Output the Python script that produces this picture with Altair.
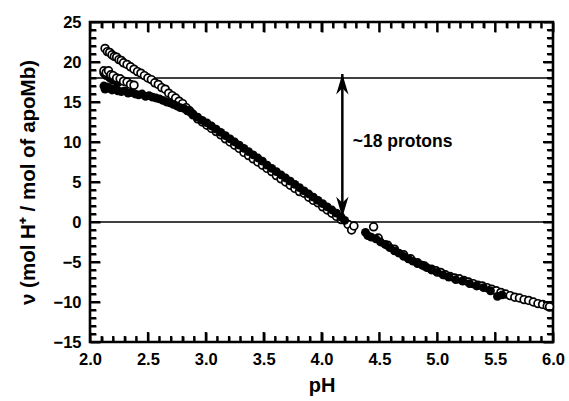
import altair as alt
import pandas as pd

# ---------------- data ----------------
# open circles: upper branch and the main curve
open_ph = [2.13, 2.15, 2.17, 2.19, 2.21, 2.23, 2.25, 2.27, 2.29, 2.32, 2.35, 2.38, 2.41, 2.44,
           2.47, 2.50, 2.53, 2.56, 2.59, 2.62, 2.65, 2.68, 2.71, 2.74, 2.77, 2.80, 2.83, 2.86,
           2.89, 2.93, 2.97, 3.01, 3.05, 3.09, 3.13, 3.17, 3.21, 3.25, 3.29, 3.33, 3.37, 3.41,
           3.45, 3.49, 3.53, 3.57, 3.61, 3.65, 3.69, 3.73, 3.77, 3.81, 3.85, 3.89, 3.93, 3.97,
           4.01, 4.05, 4.09, 4.13, 4.17, 4.23, 4.26, 4.28, 4.45, 4.49, 4.57, 4.63, 4.71, 4.77,
           4.83, 4.89, 4.95, 4.99, 5.03, 5.07, 5.11, 5.15, 5.19, 5.23, 5.27, 5.31, 5.35, 5.39,
           5.43, 5.47, 5.51, 5.55, 5.59, 5.63, 5.67, 5.71, 5.75, 5.79, 5.83, 5.87, 5.91, 5.95, 5.97]
open_v = [21.7, 21.3, 21.2, 20.9, 20.7, 20.6, 20.3, 20.2, 19.9, 19.7, 19.4, 19.1, 18.8, 18.6,
          18.3, 18.0, 17.8, 17.4, 17.2, 16.8, 16.6, 16.1, 15.8, 15.5, 15.1, 14.8, 14.3, 13.9,
          13.4, 12.9, 12.5, 12.1, 11.7, 11.3, 10.9, 10.4, 10.0, 9.6, 9.2, 8.7, 8.3, 7.9,
          7.5, 7.1, 6.7, 6.3, 5.8, 5.4, 5.0, 4.6, 4.2, 3.8, 3.6, 3.1, 2.7, 2.4,
          1.9, 1.5, 1.1, 0.7, 0.3, -0.3, -1.0, -0.5, -0.6, -2.0, -2.9, -3.4, -4.1, -4.6,
          -5.1, -5.5, -5.9, -6.1, -6.3, -6.6, -6.8, -7.0, -7.1, -7.3, -7.5, -7.7, -7.9, -8.0,
          -8.2, -8.4, -8.6, -8.8, -9.0, -9.2, -9.4, -9.5, -9.7, -9.8, -10.0, -10.2, -10.3, -10.5, -10.6]

# open circles: middle branch
mid_ph = [2.12, 2.14, 2.16, 2.18, 2.20, 2.23, 2.26, 2.29, 2.32, 2.35, 2.38]
mid_v = [18.9, 18.7, 18.9, 18.4, 18.3, 18.0, 17.9, 17.6, 17.5, 17.2, 17.1]

# filled circles: lower branch and main curve
filled_ph = [2.12, 2.13, 2.15, 2.17, 2.19, 2.21, 2.24, 2.27, 2.30, 2.33, 2.36, 2.39, 2.42, 2.45,
             2.48, 2.51, 2.54, 2.57, 2.60, 2.63, 2.66, 2.69, 2.72, 2.75, 2.78, 2.81, 2.84, 2.87,
             2.12, 2.14, 2.17, 2.20, 2.24,
             2.89, 2.93, 2.97, 3.01, 3.05, 3.09, 3.13, 3.17, 3.21, 3.25, 3.29, 3.33, 3.37, 3.41,
             3.45, 3.49, 3.53, 3.57, 3.61, 3.65, 3.69, 3.73, 3.77, 3.81, 3.85, 3.89, 3.93, 3.97,
             4.01, 4.05, 4.09, 4.13, 4.17, 4.20, 4.38, 4.40, 4.43, 4.47, 4.51, 4.55, 4.59, 4.63,
             4.67, 4.71, 4.75, 4.79, 4.83, 4.87, 4.91, 4.95, 5.00, 5.05, 5.10, 5.16, 5.22, 5.28,
             5.34, 5.40, 5.46, 5.52, 5.56]
filled_v = [17.0, 16.6, 16.9, 16.7, 16.5, 16.6, 16.4, 16.3, 16.4, 16.1, 16.2, 16.0, 15.9, 16.0,
            15.7, 15.8, 15.6, 15.5, 15.4, 15.2, 15.0, 14.9, 14.7, 14.5, 14.3, 14.2, 13.9, 13.7,
            18.6, 18.3, 18.0, 17.7, 17.4,
            13.5, 13.1, 12.7, 12.4, 12.0, 11.6, 11.2, 10.8, 10.4, 10.0, 9.6, 9.2, 8.8, 8.4,
            8.0, 7.6, 7.1, 6.7, 6.3, 5.9, 5.5, 5.1, 4.7, 4.3, 3.9, 3.5, 3.1, 2.7,
            2.3, 1.9, 1.5, 1.1, 0.6, 0.2, -1.3, -1.7, -1.9, -2.1, -2.5, -2.8, -3.2, -3.6,
            -3.9, -4.3, -4.6, -4.9, -5.2, -5.4, -5.7, -6.0, -6.3, -6.6, -6.9, -7.2, -7.4, -7.7,
            -8.0, -8.2, -8.6, -9.3, -9.1]

ref_levels = [0, 18]
arrow_ph = [4.18]
arrow_bottom = [0.6]
arrow_top = [18.5]
label_text = ["~18 protons"]
label_ph = [4.27]
label_v = [10.0]

# tick positions (major ones labelled, minor ones unlabelled)
x_ticks = [round(2.0 + 0.1 * i, 1) for i in range(41)]
y_ticks = [-15 + i for i in range(41)]

# ---------------- chart ----------------
W, H = 463, 320
FONT = "Liberation Sans"
XD = [2, 6]
YD = [-15, 25]
MAJ, MIN = 10, 6

X_MAJOR_TEST = "abs(datum.value * 2 - round(datum.value * 2)) < 0.001"
Y_MAJOR_TEST = "datum.value % 5 === 0"


def build(conditional):
    xs = alt.Scale(domain=XD, nice=False, zero=False)
    ys = alt.Scale(domain=YD, nice=False, zero=False)
    if conditional:
        x_dash = {"condition": {"test": X_MAJOR_TEST, "value": [MAJ, H - 2 * MAJ, MAJ, 0]},
                  "value": [MIN, H - 2 * MIN, MIN, 0]}
        y_dash = {"condition": {"test": Y_MAJOR_TEST, "value": [MAJ, W - 2 * MAJ, MAJ, 0]},
                  "value": [MIN, W - 2 * MIN, MIN, 0]}
    else:
        x_dash = [8, H - 16, 8, 0]
        y_dash = [8, W - 16, 8, 0]

    xaxis = alt.Axis(values=x_ticks,
                     labelExpr=X_MAJOR_TEST + " ? format(datum.value, '.1f') : ''",
                     ticks=False, domain=False, grid=True, gridColor="black", gridOpacity=1,
                     gridWidth=2, gridDash=x_dash, labelOverlap=False,
                     labelFont=FONT, labelFontWeight="bold", labelFontSize=16.5, labelPadding=9,
                     labelColor="black", titleFont=FONT, titleFontWeight="bold", titleFontSize=20,
                     titleColor="black", titlePadding=8, labelFlush=False)
    yaxis = alt.Axis(values=y_ticks,
                     labelExpr=Y_MAJOR_TEST + " ? format(datum.value, 'd') : ''",
                     ticks=False, domain=False, grid=True, gridColor="black", gridOpacity=1,
                     gridWidth=2, gridDash=y_dash, labelOverlap=False,
                     labelFont=FONT, labelFontWeight="bold", labelFontSize=16.5, labelPadding=9,
                     labelColor="black", titleFont=FONT, titleFontWeight="bold", titleFontSize=20.5,
                     titleColor="black", titlePadding=15, labelFlush=False)
    XT = "pH"
    YT = "ν (mol H⁺ / mol of apoMb)"

    def X(f):
        return alt.X(f, type="quantitative", scale=xs, axis=xaxis, title=XT)

    def Y(f):
        return alt.Y(f, type="quantitative", scale=ys, axis=yaxis, title=YT)

    open_df = pd.DataFrame({"ph": open_ph, "v": open_v})
    mid_df = pd.DataFrame({"ph": mid_ph, "v": mid_v})
    filled_df = pd.DataFrame({"ph": filled_ph, "v": filled_v})
    ref_df = pd.DataFrame({"v": ref_levels})
    arrow_df = pd.DataFrame({"ph": arrow_ph, "lo": arrow_bottom, "hi": arrow_top})
    label_df = pd.DataFrame({"ph": label_ph, "v": label_v, "txt": label_text})

    # inward tick marks as short rules, lengths in pixels converted to data units
    ux = (XD[1] - XD[0]) / W
    uy = (YD[1] - YD[0]) / H
    xt_rows, yt_rows = [], []
    for t in x_ticks:
        ln = MAJ if abs(t * 2 - round(t * 2)) < 0.001 else MIN
        xt_rows.append({"pos": t, "s0": YD[0], "s1": YD[0] + ln * uy})
        xt_rows.append({"pos": t, "s0": YD[1] - ln * uy, "s1": YD[1]})
    for t in y_ticks:
        ln = MAJ if t % 5 == 0 else MIN
        yt_rows.append({"qpos": t, "r0": XD[0], "r1": XD[0] + ln * ux})
        yt_rows.append({"qpos": t, "r0": XD[1] - ln * ux, "r1": XD[1]})

    xticks = alt.Chart(pd.DataFrame(xt_rows)).mark_rule(color="black", strokeWidth=2).encode(
        x=X("pos"), y=Y("s0"), y2="s1")
    yticks = alt.Chart(pd.DataFrame(yt_rows)).mark_rule(color="black", strokeWidth=2).encode(
        y=Y("qpos"), x=X("r0"), x2="r1")

    refs = alt.Chart(ref_df).mark_rule(color="black", strokeWidth=1.3).encode(y=Y("v"))

    open_pts = alt.Chart(open_df).mark_point(shape="circle", filled=False, fill="white",
                                             fillOpacity=1, stroke="black", strokeWidth=1.7,
                                             size=60, opacity=1).encode(x=X("ph"), y=Y("v"))
    filled_pts = alt.Chart(filled_df).mark_point(shape="circle", filled=True, color="black",
                                                 size=78, opacity=1).encode(x=X("ph"), y=Y("v"))
    mid_pts = alt.Chart(mid_df).mark_point(shape="circle", filled=False, fill="white",
                                           fillOpacity=1, stroke="black", strokeWidth=1.7,
                                           size=60, opacity=1).encode(x=X("ph"), y=Y("v"))

    shaft = alt.Chart(arrow_df).mark_rule(color="black", strokeWidth=2.5).encode(
        x=X("ph"), y=Y("lo"), y2="hi")
    head_up = alt.Chart(arrow_df).mark_point(shape="M0,0 L0.6,2 L0,1.4 L-0.6,2 Z", filled=True,
                                             color="black", size=420, opacity=1).encode(
        x=X("ph"), y=Y("hi"))
    head_down = alt.Chart(arrow_df).mark_point(shape="M0,0 L0.6,-2 L0,-1.4 L-0.6,-2 Z",
                                               filled=True, color="black", size=420,
                                               opacity=1).encode(x=X("ph"), y=Y("lo"))

    label = alt.Chart(label_df).mark_text(align="left", baseline="middle", font=FONT,
                                          fontWeight="bold", fontSize=17.5,
                                          color="black").encode(
        x=X("ph"), y=Y("v"), text="txt:N")

    return alt.layer(refs, open_pts, filled_pts, mid_pts, shaft, head_up, head_down,
                     label, xticks, yticks).properties(
        width=W, height=H,
        autosize=alt.AutoSizeParams(type="none"),
        padding={"left": 90, "top": 22, "right": 16, "bottom": 59},
        background="white",
    ).configure_view(stroke="black", strokeWidth=2.6)


try:
    chart = build(True)
    chart.to_dict()
except Exception:
    chart = build(False)

chart.save("out.html", embed_options={"renderer": "svg", "actions": False})
